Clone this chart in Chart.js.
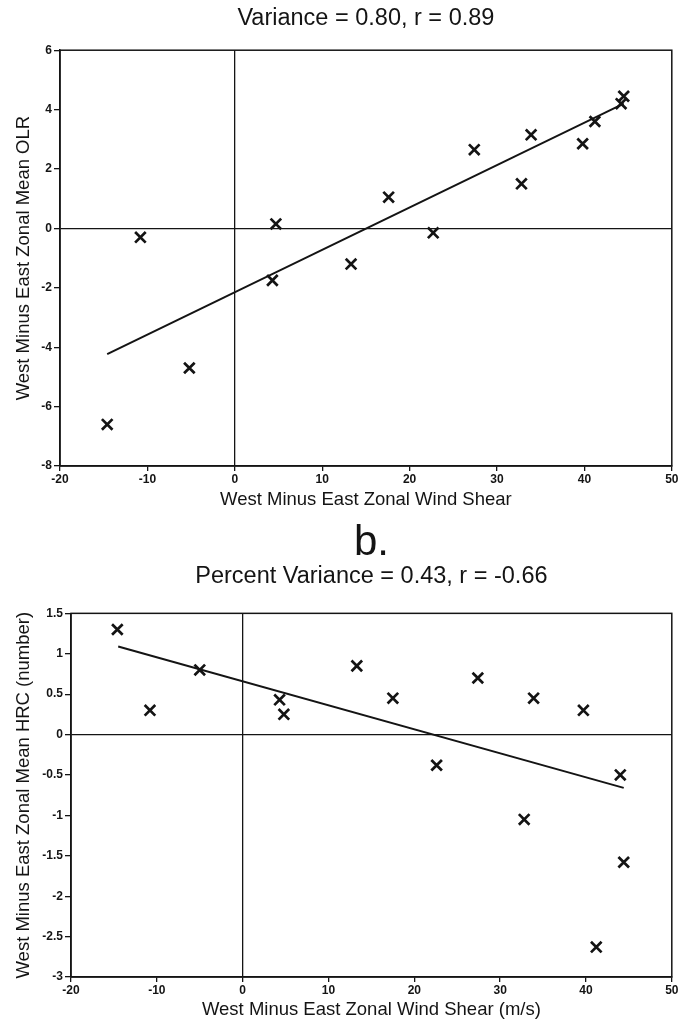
<!DOCTYPE html>
<html>
<head>
<meta charset="utf-8">
<script src="https://cdn.jsdelivr.net/npm/chart.js@4/dist/chart.umd.min.js"></script>
<style>
    html, body { margin: 0; padding: 0; background: #fff; }
    .panel { position: absolute; left: 0; width: 682px; }
    #panelA { top: 0; height: 515px; }
    #panelB { top: 515px; height: 508px; }
</style>
</head>
<body>
<div class="panel" id="panelA"><canvas id="chartA" width="682" height="515"></canvas></div>
<div class="panel" id="panelB"><canvas id="chartB" width="682" height="508"></canvas></div>
<script>
/* global Chart */

// panel a: shear vs OLR
const SHEAR_A = [-14.6, -10.8, -5.2, 4.3, 4.7, 13.3, 17.6, 22.7, 27.4, 32.8, 33.9, 39.8, 41.2, 44.2, 44.5];
const OLR_A   = [-6.6, -0.3, -4.7, -1.75, 0.15, -1.2, 1.05, -0.15, 2.65, 1.5, 3.15, 2.85, 3.6, 4.2, 4.45];
const FIT_A_X = [-14.6, 44.5];
const FIT_A_Y = [-4.23, 4.2];

// panel b: shear vs HRC
const SHEAR_B = [-14.6, -10.8, -5.0, 4.3, 4.8, 13.3, 17.5, 22.6, 27.4, 32.8, 33.9, 39.7, 41.2, 44.0, 44.4];
const HRC_B   = [1.3, 0.3, 0.8, 0.43, 0.25, 0.85, 0.45, -0.38, 0.7, -1.05, 0.45, 0.3, -2.63, -0.5, -1.58];
const FIT_B_X = [-14.5, 44.4];
const FIT_B_Y = [1.09, -0.66];

const X_TICKS = { min: -20, max: 50, step: 10 };
const Y_TICKS_A = { min: -8, max: 6, step: 2 };
const Y_TICKS_B = { min: -3, max: 1.5, step: 0.5 };

const INK = '#141414';
const FONT = "'Liberation Sans', Arial, sans-serif";
const TICK_FONT = { family: FONT, size: 12, weight: 'bold' };

const toPoints = (xs, ys) => xs.map((x, i) => ({ x, y: ys[i] }));

// box around the plot area
const framePlugin = {
    id: 'frame',
    afterDatasetsDraw(chart) {
        const { ctx, chartArea: a } = chart;
        ctx.save();
        ctx.strokeStyle = INK;
        ctx.lineWidth = 1.5;
        ctx.strokeRect(a.left, a.top, a.right - a.left, a.bottom - a.top);
        ctx.restore();
    }
};

// only the zero lines are drawn inside the box
const zeroLine = (c) => (c.tick && c.tick.value === 0 ? INK : 'rgba(0,0,0,0)');

function makeChart(id, cfg) {
    return new Chart(document.getElementById(id), {
        type: 'scatter',
        data: {
            datasets: [
                {
                    data: cfg.points,
                    pointStyle: 'crossRot',
                    pointRadius: 7.5,
                    pointBorderWidth: 2.7,
                    borderColor: INK,
                    backgroundColor: INK,
                    showLine: false
                },
                {
                    type: 'line',
                    data: cfg.fit,
                    borderColor: INK,
                    borderWidth: 2,
                    pointRadius: 0,
                    fill: false
                }
            ]
        },
        options: {
            responsive: false,
            animation: false,
            layout: { padding: cfg.padding },
            plugins: {
                legend: { display: false },
                tooltip: { enabled: false },
                title: cfg.title,
                subtitle: cfg.subtitle || { display: false }
            },
            scales: {
                x: {
                    min: X_TICKS.min,
                    max: X_TICKS.max,
                    afterFit: (s) => { s.height = cfg.xHeight; },
                    ticks: {
                        stepSize: X_TICKS.step,
                        color: INK,
                        padding: 1,
                        maxRotation: 0,
                        font: TICK_FONT
                    },
                    grid: { color: zeroLine, tickColor: INK, tickLength: 5, lineWidth: 1.3 },
                    border: { color: INK, width: 1.5 },
                    title: {
                        display: true,
                        text: cfg.xTitle,
                        color: INK,
                        font: { family: FONT, size: 18.5 },
                        padding: { top: 0, bottom: cfg.xTitlePad }
                    }
                },
                y: {
                    min: cfg.yTicks.min,
                    max: cfg.yTicks.max,
                    afterFit: (s) => { s.width = cfg.yWidth; },
                    ticks: {
                        stepSize: cfg.yTicks.step,
                        color: INK,
                        padding: 2,
                        font: TICK_FONT,
                        callback: (v) => String(v)
                    },
                    grid: { color: zeroLine, tickColor: INK, tickLength: 6, lineWidth: 1.3 },
                    border: { color: INK, width: 1.5 },
                    title: {
                        display: true,
                        text: cfg.yTitle,
                        color: INK,
                        font: { family: FONT, size: 18.5 },
                        padding: { top: 13, bottom: 0 }
                    }
                }
            }
        },
        plugins: [framePlugin]
    });
}

makeChart('chartA', {
    points: toPoints(SHEAR_A, OLR_A),
    fit: toPoints(FIT_A_X, FIT_A_Y),
    yTicks: Y_TICKS_A,
    padding: { left: 0, right: 10, top: 0, bottom: 0 },
    xHeight: 49,
    yWidth: 60,
    xTitlePad: 4,
    xTitle: 'West Minus East Zonal Wind Shear',
    yTitle: 'West Minus East Zonal Mean OLR',
    title: {
        display: true,
        fullSize: false,
        text: 'Variance = 0.80, r = 0.89',
        color: INK,
        font: { family: FONT, size: 23.5, weight: 'normal' },
        padding: { top: 4, bottom: 18 }
    }
});

makeChart('chartB', {
    points: toPoints(SHEAR_B, HRC_B),
    fit: toPoints(FIT_B_X, FIT_B_Y),
    yTicks: Y_TICKS_B,
    padding: { left: 0, right: 8, top: 0, bottom: 0 },
    xHeight: 46,
    yWidth: 71,
    xTitlePad: 2,
    xTitle: 'West Minus East Zonal Wind Shear (m/s)',
    yTitle: 'West Minus East Zonal Mean HRC (number)',
    title: {
        display: true,
        fullSize: false,
        text: 'b.',
        color: INK,
        font: { family: FONT, size: 42, weight: 'normal', lineHeight: 1 },
        padding: { top: 7, bottom: 0 }
    },
    subtitle: {
        display: true,
        fullSize: false,
        text: 'Percent Variance = 0.43, r = -0.66',
        color: INK,
        font: { family: FONT, size: 23.5, lineHeight: 1.1 },
        padding: { top: 0, bottom: 23.5 }
    }
});
</script>
</body>
</html>
